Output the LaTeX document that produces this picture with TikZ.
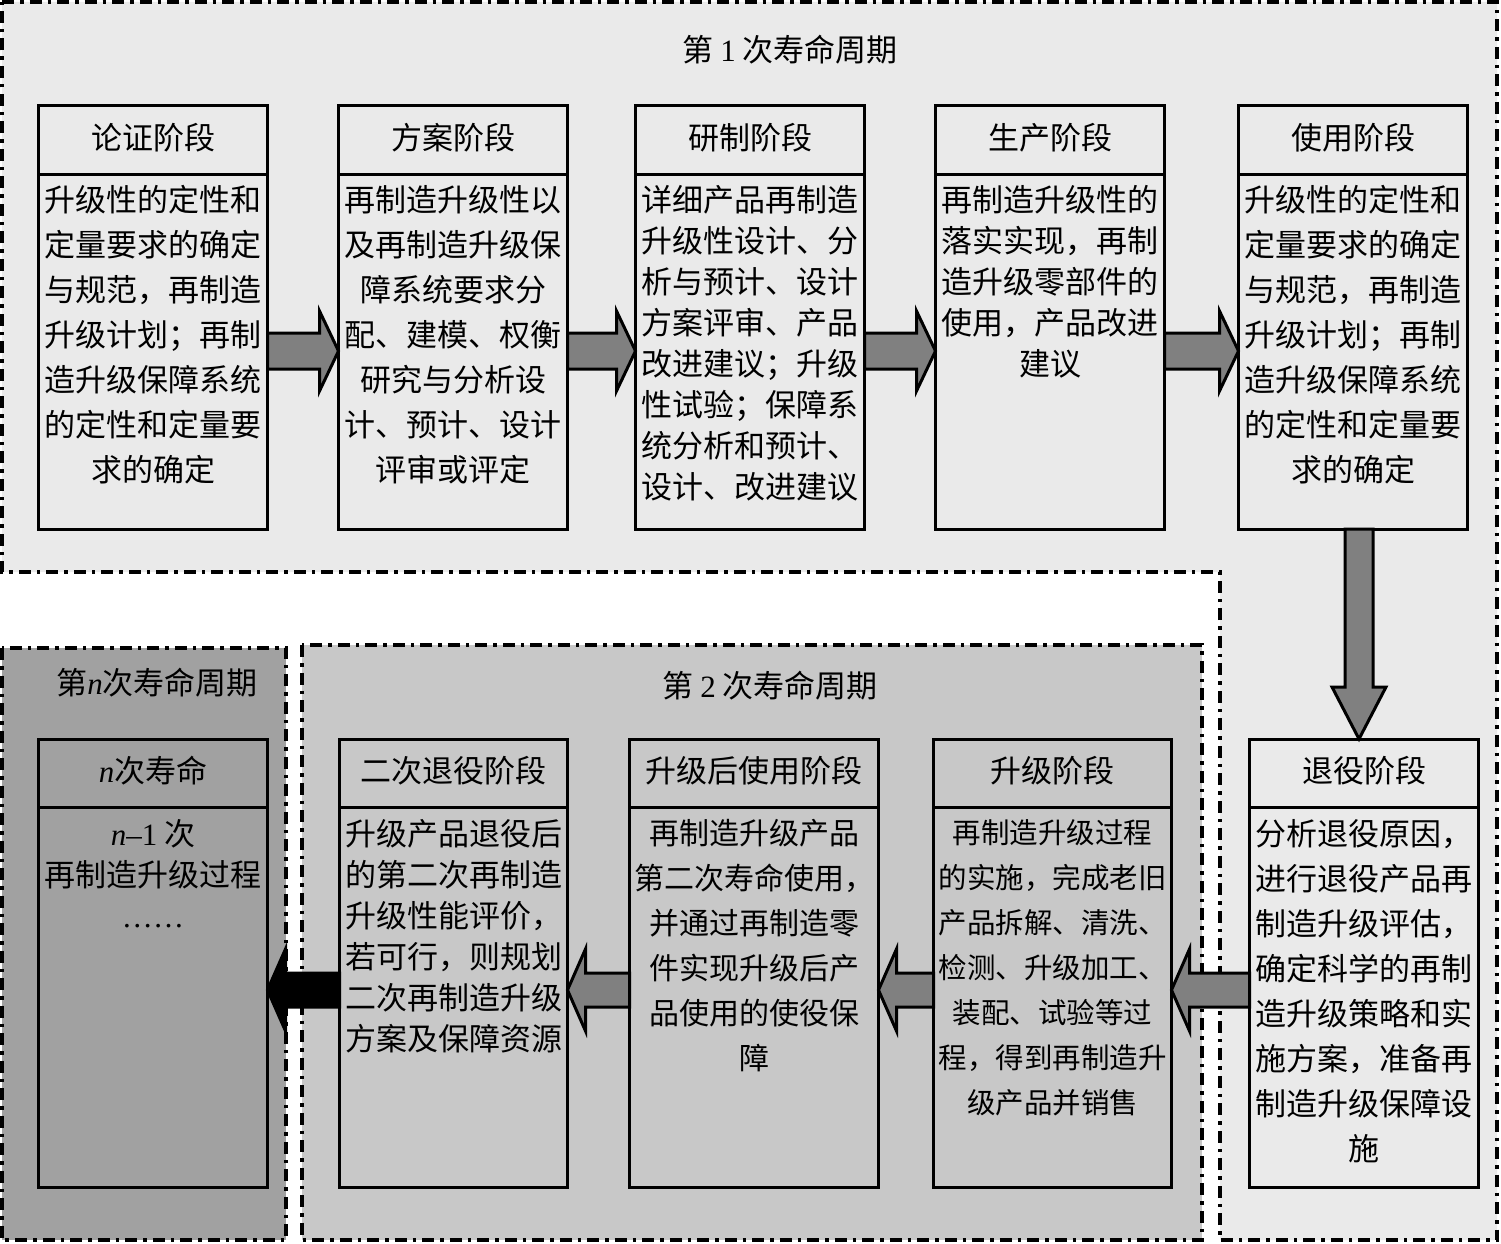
\documentclass[tikz,border=0pt]{standalone}
\usepackage{fontspec}
\setmainfont{Noto Sans CJK SC}
\newfontfamily\latinf{Liberation Serif}
\newcommand\itn{{\latinf\itshape n}}
\usetikzlibrary{calc}
\definecolor{regone}{gray}{0.918}
\definecolor{regtwo}{gray}{0.784}
\definecolor{regn}{gray}{0.63}
\definecolor{arrgray}{gray}{0.50}
\newcommand\stagebox[6]{%
  \node[stage, minimum width=#4, minimum height=#5] (#1) at (#2,#3) {};
  \draw[line width=3pt] ($(#1.north west)+(0,68)$) -- ($(#1.north east)+(0,68)$);
  \node[headtxt] (#1h) at ($(#1.north)+(0,32)$) {#6};}
\newcommand\arrowR[3]{%
  \draw[blockarr] ($(#1.east |- 0,#3)+(0,-18)$) -- ($(#2.west |- 0,#3)+(-19,-18)$) -- ++(0,-22)
   -- (#2.west |- 0,#3) -- ($(#2.west |- 0,#3)+(-19,40)$) -- ++(0,-22)
   -- ($(#1.east |- 0,#3)+(0,18)$) -- cycle;}
\newcommand\arrowL[4]{%
  \draw[blockarr, fill=#4] ($(#1.west |- 0,#3)+(0,-17)$) -- ($(#2.east |- 0,#3)+(18,-17)$) -- ++(0,-24)
   -- (#2.east |- 0,#3) -- ($(#2.east |- 0,#3)+(18,41)$) -- ++(0,-24)
   -- ($(#1.west |- 0,#3)+(0,17)$) -- cycle;}
\begin{document}
\begin{tikzpicture}[x=1pt,y=-1pt,
  stage/.style={draw, line width=3pt, inner sep=0pt, outer sep=0pt},
  headtxt/.style={inner sep=0pt, font=\fontsize{31}{40}\selectfont},
  titletxt/.style={inner sep=0pt, font=\fontsize{31}{36}\selectfont},
  bodytxt/.style={anchor=north, align=center, inner sep=0pt, font=\fontsize{31}{45}\selectfont},
  bodytight/.style={bodytxt, font=\fontsize{31}{41}\selectfont},
  regborder/.style={line width=3.5pt, dash pattern=on 12pt off 6pt on 3.5pt off 6pt},
  blockarr/.style={draw, line width=3pt, fill=arrgray, miter limit=20}]
\path[use as bounding box] (0,0) rectangle (1501,1244);
\fill[white] (0,0) rectangle (1501,1244);
% regions
\fill[regone] (2,2) -- (1497,2) -- (1497,1240) -- (1220,1240) -- (1220,572) -- (2,572) -- cycle;
\draw[regborder] (2,2) -- (1497,2) -- (1497,1240) -- (1220,1240) -- (1220,572) -- (2,572) -- cycle;
\fill[regtwo] (302,645) rectangle (1202,1240);
\draw[regborder] (302,645) rectangle (1202,1240);
\fill[regn] (2,648) rectangle (286,1240);
\draw[regborder] (2,648) rectangle (286,1240);
% titles
\node[titletxt] (c1) at (790,50) {第 {\latinf 1} 次寿命周期};
\node[titletxt] (c2) at (770,686) {第 {\latinf 2} 次寿命周期};
\node[titletxt] (cn) at (157,683) {第\itn 次寿命周期};
% top stages
\stagebox{s1}{153}{317.5}{229}{423}{论证阶段}
\stagebox{s2}{453}{317.5}{229}{423}{方案阶段}
\stagebox{s3}{750}{317.5}{229}{423}{研制阶段}
\stagebox{s4}{1050}{317.5}{229}{423}{生产阶段}
\stagebox{s5}{1353}{317.5}{229}{423}{使用阶段}
\node[bodytxt] (t1) at ($(s1.north)+(0,79)$) {升级性的定性和\\定量要求的确定\\与规范，再制造\\升级计划；再制\\造升级保障系统\\的定性和定量要\\求的确定};
\node[bodytxt] (t2) at ($(s2.north)+(0,79)$) {再制造升级性以\\及再制造升级保\\障系统要求分\\配、建模、权衡\\研究与分析设\\计、预计、设计\\评审或评定};
\node[bodytight] (t3) at ($(s3.north)+(0,79)$) {详细产品再制造\\升级性设计、分\\析与预计、设计\\方案评审、产品\\改进建议；升级\\性试验；保障系\\统分析和预计、\\设计、改进建议};
\node[bodytight] (t4) at ($(s4.north)+(0,79)$) {再制造升级性的\\落实实现，再制\\造升级零部件的\\使用，产品改进\\建议};
\node[bodytxt] (t5) at ($(s5.north)+(0,79)$) {升级性的定性和\\定量要求的确定\\与规范，再制造\\升级计划；再制\\造升级保障系统\\的定性和定量要\\求的确定};
% bottom stages
\stagebox{r1}{1364}{963}{229}{448}{退役阶段}
\stagebox{r2}{1052.5}{963}{238}{448}{升级阶段}
\stagebox{r3}{754}{963}{249}{448}{升级后使用阶段}
\stagebox{r4}{453.5}{963}{228}{448}{二次退役阶段}
\stagebox{n1}{153}{963}{229}{448}{\itn 次寿命}
\node[bodytxt] (u1) at ($(r1.north)+(0,80)$) {分析退役原因，\\进行退役产品再\\制造升级评估，\\确定科学的再制\\造升级策略和实\\施方案，准备再\\制造升级保障设\\施};
\node[bodytxt, font=\fontsize{28.5}{45}\selectfont] (u2) at ($(r2.north)+(0,80)$) {再制造升级过程\\的实施，完成老旧\\产品拆解、清洗、\\检测、升级加工、\\装配、试验等过\\程，得到再制造升\\级产品并销售};
\node[bodytxt, font=\fontsize{30}{45}\selectfont] (u3) at ($(r3.north)+(0,80)$) {再制造升级产品\\第二次寿命使用，\\并通过再制造零\\件实现升级后产\\品使用的使役保\\障};
\node[bodytight] (u4) at ($(r4.north)+(0,80)$) {升级产品退役后\\的第二次再制造\\升级性能评价，\\若可行，则规划\\二次再制造升级\\方案及保障资源};
\node[bodytight] (un) at ($(n1.north)+(0,80)$) {\itn{\latinf –1} 次\\再制造升级过程\\{\latinf ……}};
% arrows
\arrowR{s1}{s2}{351}
\arrowR{s2}{s3}{351}
\arrowR{s3}{s4}{351}
\arrowR{s4}{s5}{351}
\draw[blockarr] ($(s5.south -| 1359,0)+(-14,0)$) -- ($(r1.north -| 1359,0)+(-14,-52)$) -- ++(-13,0)
   -- (r1.north -| 1359,0) -- ($(r1.north -| 1359,0)+(27,-52)$) -- ++(-13,0)
   -- ($(s5.south -| 1359,0)+(14,0)$) -- cycle;
\arrowL{r1}{r2}{990}{arrgray}
\arrowL{r2}{r3}{990}{arrgray}
\arrowL{r3}{r4}{990}{arrgray}
\arrowL{r4}{n1}{990}{black}
\end{tikzpicture}
\end{document}
